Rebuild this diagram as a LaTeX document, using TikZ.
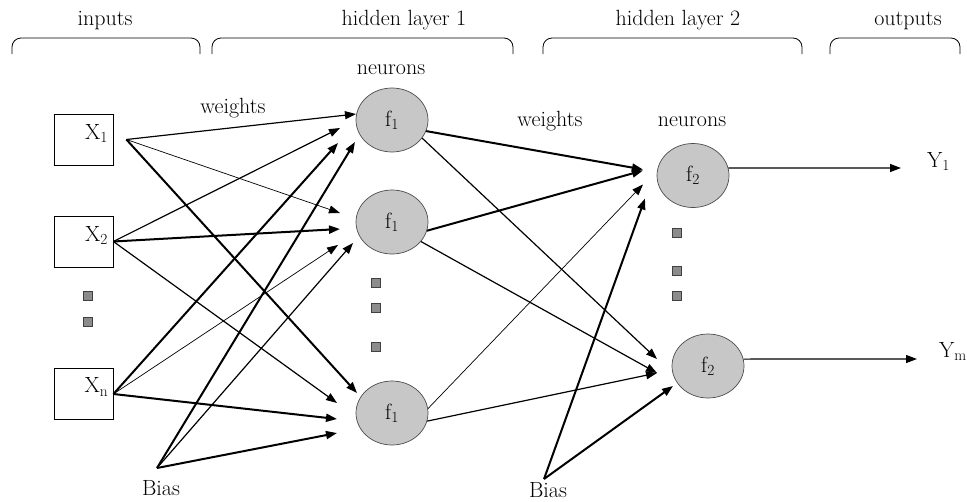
\documentclass[tikz,border=0pt]{standalone}
\usepackage{tikz}
\usetikzlibrary{arrows.meta,shapes.geometric,calc,positioning}

\tikzset{
  inbox/.style={draw,line width=0.8pt,minimum width=59pt,minimum height=51pt,inner sep=0pt},
  neuron/.style={ellipse,draw=black!70,line width=0.7pt,fill=black!22,minimum width=72pt,minimum height=64pt,inner sep=0pt},
  sqdot/.style={draw=black!75,fill=black!45,line width=0.6pt,minimum size=8.5pt,inner sep=0pt},
  txt/.style={inner sep=0pt},
  wire/.style={-{Triangle[length=11pt,width=8pt]},line width=1.2pt},
  thin wire/.style={wire,line width=0.7pt},
  thick wire/.style={wire,line width=2pt},
  brace/.style={line width=0.8pt,rounded corners=9pt}
}

\begin{document}
\begin{tikzpicture}[x=1pt,y=-1pt,font=\fontsize{22}{26}\selectfont]
\useasboundingbox (0,0) rectangle (967,501);

\node[txt,anchor=base] (Tin) at (105,25) {inputs};
\node[txt,anchor=base] (Th1) at (404,25) {hidden layer 1};
\node[txt,anchor=base] (Th2) at (678,25) {hidden layer 2};
\node[txt,anchor=base] (Tout) at (908,25) {outputs};
\draw[brace] (12,54) -- (12,38) -- (200,38) -- (200,54);
\draw[brace] (212,54) -- (212,38) -- (513,38) -- (513,54);
\draw[brace] (543,54) -- (543,38) -- (802,38) -- (802,54);
\draw[brace] (830,54) -- (830,38) -- (960,38) -- (960,54);

\node[inbox] (X1) at (83.5,139.5) {};
\node[inbox] (X2) at (83.5,241.5) {};
\node[inbox] (Xn) at (83.5,394) {};
\node (X1t) at ($(X1)+(13,-6)$) {X\textsubscript{1}};
\node (X2t) at ($(X2)+(13,-6)$) {X\textsubscript{2}};
\node (Xnt) at ($(Xn)+(13,-7)$) {X\textsubscript{n}};
\node[sqdot] (d1) at (88,296) {};
\node[sqdot] (d2) at (88,322) {};

\node[neuron] (H1) at (392,120) {f\textsubscript{1}};
\node[neuron] (H2) at (392,222) {f\textsubscript{1}};
\node[neuron] (H3) at (392,413) {f\textsubscript{1}};
\node[sqdot] (d3) at (376,283) {};
\node[sqdot] (d4) at (376,308) {};
\node[sqdot] (d5) at (376,347) {};

\node[neuron] (O1) at (693,175.5) {f\textsubscript{2}};
\node[neuron] (O2) at (708,366) {f\textsubscript{2}};
\node[sqdot] (d6) at (677,233) {};
\node[sqdot] (d7) at (677,271) {};
\node[sqdot] (d8) at (677,296) {};

\node[txt,anchor=base] (N1) at (391,74) {neurons};
\node[txt,anchor=base] (N2) at (692,126) {neurons};
\node[txt,anchor=base] (W1) at (233,113) {weights};
\node[txt,anchor=base] (W2) at (550,126) {weights};
\node[txt,anchor=base] (Bl1) at (161,495) {Bias};
\node[txt,anchor=base] (Bl2) at (548,497) {Bias};

\coordinate (S1) at ($(X1.east)+(13,0)$);
\coordinate (B1) at (157,468);
\coordinate (B2) at (544,479);

\draw[wire] (S1) -- ($(H1)+(-36,-6)$);
\draw[thin wire] (S1) -- ($(H2)+(-52,-9)$);
\draw[thick wire] (S1) -- ($(H3)+(-35,-20)$);
\draw[wire] (X2.east) -- ($(H1)+(-52,8)$);
\draw[thick wire] (X2.east) -- ($(H2)+(-52,7)$);
\draw[wire] (X2.east) -- ($(H3)+(-55,-10)$);
\draw[thick wire] (Xn.east) -- ($(H1)+(-54,23)$);
\draw[thin wire] (Xn.east) -- ($(H2)+(-54,23)$);
\draw[thick wire] (Xn.east) -- ($(H3)+(-55,6)$);
\draw[thick wire] (B1) -- ($(H1)+(-37,22)$);
\draw[wire] (B1) -- ($(H2)+(-39,21)$);
\draw[thick wire] (B1) -- ($(H3)+(-55,20)$);

\draw[thick wire] (H1.-18) -- ($(O1)+(-50,-6)$);
\draw[wire] (H1.-31) -- ($(O2)+(-51,-7)$);
\draw[thick wire] (H2.-14) -- ($(O1)+(-50,-5)$);
\draw[wire] (H2.-34) -- ($(O2)+(-51,7)$);
\draw[thin wire] (H3.7) -- ($(O1)+(-50,9)$);
\draw[wire] (H3.-13) -- ($(O2)+(-51,7)$);
\draw[thick wire] (B2) -- ($(O1)+(-48,23)$);
\draw[thick wire] (B2) -- ($(O2)+(-35,20)$);

\coordinate (T1) at (901,168);
\coordinate (Tm) at (917,359);
\draw[wire] (O1.12) -- (T1);
\draw[wire] (O2.11) -- (Tm);
\node[txt,anchor=base west] (Y1) at (927,167) {Y\textsubscript{1}};
\node[txt,anchor=base west] (Ym) at (939,357) {Y\textsubscript{m}};
\end{tikzpicture}
\end{document}
